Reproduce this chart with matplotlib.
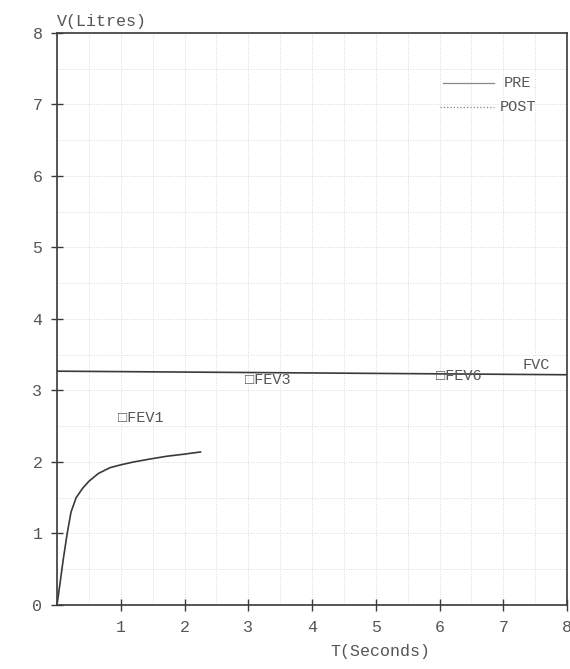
import matplotlib.pyplot as plt
import numpy as np
import matplotlib as mpl

mpl.rc('font', family=['Liberation Mono', 'DejaVu Sans Mono'], size=12)

# --- data
curve_t = [0, 0.05, 0.1, 0.16, 0.22, 0.3, 0.4, 0.5, 0.65, 0.83, 1.0, 1.2, 1.45, 1.72, 2.0, 2.25]
curve_v = [0, 0.32, 0.65, 1.0, 1.3, 1.5, 1.63, 1.73, 1.84, 1.92, 1.96, 2.0, 2.04, 2.08, 2.11, 2.14]

fvc_t = [0, 8]
fvc_v = [3.27, 3.22]

marker_names = ['FEV1', 'FEV3', 'FEV6']
marker_t = [0.95, 2.95, 5.95]
marker_v = [2.62, 3.14, 3.2]

x_ticks = [1, 2, 3, 4, 5, 6, 7, 8]
y_ticks = [0, 1, 2, 3, 4, 5, 6, 7, 8]

ink = '#3a3a3a'
txt = '#555555'

fig = plt.figure(figsize=(5.7, 6.69), dpi=100)
ax1 = fig.add_axes([0.1, 0.0957, 0.895, 0.855])

ax1.set_xlim([0, 8])
ax1.set_ylim([0, 8])

# faint dotted grid like the chart paper
ax1.set_xticks(np.arange(0, 8.01, 0.5), minor=True)
ax1.set_yticks(np.arange(0, 8.01, 0.5), minor=True)
ax1.grid(which='both', color='#dadada', linestyle=':', linewidth=0.7)
ax1.tick_params(which='minor', length=0)

ax1.set_xticks(x_ticks)
ax1.set_xticklabels([str(t) for t in x_ticks])
ax1.set_yticks(y_ticks)
ax1.set_yticklabels([str(t) for t in y_ticks])
ax1.tick_params(which='major', direction='inout', length=9, width=1.0,
                color=ink, labelcolor=txt, labelsize=12, pad=6)

for s in ax1.spines.values():
    s.set_color(ink)
    s.set_linewidth(1.2)

ax1.plot(curve_t, curve_v, color=ink, linewidth=1.2, clip_on=False)
ax1.plot(fvc_t, fvc_v, color=ink, linewidth=1.2)

for name, t, v in zip(marker_names, marker_t, marker_v):
    ax1.text(t, v, '\u25a1' + name, color=txt, fontsize=11,
             va='center', ha='left')
ax1.text(7.3, 3.36, 'FVC', color=txt, fontsize=11, va='center', ha='left',
         bbox=dict(facecolor='white', edgecolor='none', pad=1))

# legend
ax1.plot([6.05, 6.85], [7.3, 7.3], color='#888888', linewidth=0.9)
ax1.plot([6.0, 6.85], [6.97, 6.97], color='#888888', linewidth=0.9, linestyle=':')
ax1.text(7.0, 7.3, 'PRE', color=txt, fontsize=11, va='center', ha='left')
ax1.text(6.95, 6.97, 'POST', color=txt, fontsize=11, va='center', ha='left')

ax1.text(0.0, 8.05, 'V(Litres)', color=txt, fontsize=12, va='bottom', ha='left')
ax1.set_xlabel('T(Seconds)', color=txt, fontsize=12)
ax1.xaxis.set_label_coords(0.633, -0.069)

plt.savefig('out.png', dpi=100)
